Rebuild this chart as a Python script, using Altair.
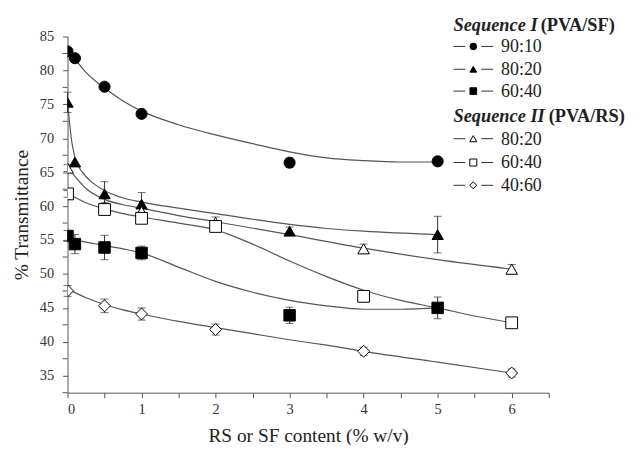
import altair as alt
import pandas as pd

# ---------------- data ----------------
series_names = ["SF 90:10", "SF 80:20", "SF 60:40", "RS 80:20", "RS 60:40", "RS 40:60"]
legend_labels = ["90:10", "80:20", "60:40", "80:20", "60:40", "40:60"]

x_seq1 = [0, 0.1, 0.5, 1, 3, 5]
y_sf_9010 = [82.8, 81.8, 77.6, 73.6, 66.4, 66.6]
e_sf_9010 = [0, 0, 0, 0, 0.7, 0.6]
y_sf_8020 = [75.3, 66.5, 61.8, 60.3, 56.3, 55.8]
e_sf_8020 = [1.5, 0, 1.8, 1.7, 0.6, 2.7]
y_sf_6040 = [55.6, 54.4, 53.9, 53.1, 43.9, 45.0]
e_sf_6040 = [0.8, 1.4, 1.8, 1.0, 1.2, 1.6]

x_seq2 = [0, 0.5, 1, 2, 4, 6]
y_rs_8020 = [65.6, 59.9, 59.2, 57.6, 53.7, 50.7]
e_rs_8020 = [0.5, 0.6, 0.5, 0.8, 0.7, 0.7]
y_rs_6040 = [61.8, 59.5, 58.2, 57.0, 46.7, 42.8]
e_rs_6040 = [0.5, 0.8, 0.6, 0.7, 0.8, 0.5]
y_rs_4060 = [47.5, 45.3, 44.1, 41.8, 38.6, 35.4]
e_rs_4060 = [0.8, 1.0, 0.9, 0.8, 0.6, 0.6]

# fitted curves
cx_sf_9010 = [0, 0.1, 0.25, 0.5, 0.75, 1, 1.5, 2, 2.5, 3, 3.5, 4, 4.5, 5]
cy_sf_9010 = [83.0, 81.7, 79.7, 77.4, 75.5, 74.0, 72.0, 70.5, 69.2, 68.0, 67.1, 66.7, 66.5, 66.5]
cx_sf_8020 = [0, 0.03, 0.06, 0.1, 0.2, 0.3, 0.5, 0.75, 1, 1.5, 2, 3, 3.5, 4, 5]
cy_sf_8020 = [75.5, 72.0, 69.3, 67.2, 65.0, 63.8, 62.3, 61.2, 60.6, 59.7, 58.9, 57.3, 56.7, 56.3, 55.8]
cx_sf_6040 = [0, 0.25, 0.5, 0.75, 1, 1.5, 2, 2.5, 3, 3.5, 4, 4.5, 5]
cy_sf_6040 = [55.2, 54.7, 54.2, 53.7, 53.1, 51.0, 48.9, 47.3, 46.1, 45.3, 44.8, 44.8, 45.0]
cx_rs_8020 = [0, 0.1, 0.25, 0.5, 0.75, 1, 1.5, 2, 3, 4, 5, 6]
cy_rs_8020 = [65.8, 64.4, 62.6, 61.0, 60.2, 59.7, 58.6, 57.7, 55.8, 53.8, 52.1, 50.7]
cx_rs_6040 = [0, 0.25, 0.5, 0.75, 1, 1.5, 2, 2.5, 3, 3.5, 4, 4.5, 5, 5.5, 6]
cy_rs_6040 = [61.9, 60.5, 59.6, 58.9, 58.4, 57.5, 56.5, 54.4, 51.9, 49.6, 47.6, 46.1, 45.0, 43.8, 42.8]
cx_rs_4060 = [0, 0.25, 0.5, 0.75, 1, 1.5, 2, 2.5, 3, 3.5, 4, 5, 6]
cy_rs_4060 = [47.8, 46.5, 45.5, 44.7, 44.1, 43.0, 42.1, 41.2, 40.3, 39.5, 38.6, 37.0, 35.4]

x_ticks = [0, 0.5, 1, 1.5, 2, 2.5, 3, 3.5, 4, 4.5, 5, 5.5, 6, 6.5]
y_major = [35, 40, 45, 50, 55, 60, 65, 70, 75, 80, 85]
y_minor = [32.5, 37.5, 42.5, 47.5, 52.5, 57.5, 62.5, 67.5, 72.5, 77.5, 82.5]

# ---------------- tables ----------------
pts = []
for name, xs, ys, es in [
    (series_names[0], x_seq1, y_sf_9010, e_sf_9010),
    (series_names[1], x_seq1, y_sf_8020, e_sf_8020),
    (series_names[2], x_seq1, y_sf_6040, e_sf_6040),
    (series_names[3], x_seq2, y_rs_8020, e_rs_8020),
    (series_names[4], x_seq2, y_rs_6040, e_rs_6040),
    (series_names[5], x_seq2, y_rs_4060, e_rs_4060),
]:
    for x, y, e in zip(xs, ys, es):
        pts.append({"series": name, "x": x, "y": y, "lo": y - e, "hi": y + e, "err": e})
df_pts = pd.DataFrame(pts)

crv = []
for name, xs, ys in [
    (series_names[0], cx_sf_9010, cy_sf_9010),
    (series_names[1], cx_sf_8020, cy_sf_8020),
    (series_names[2], cx_sf_6040, cy_sf_6040),
    (series_names[3], cx_rs_8020, cy_rs_8020),
    (series_names[4], cx_rs_6040, cy_rs_6040),
    (series_names[5], cx_rs_4060, cy_rs_4060),
]:
    for x, y in zip(xs, ys):
        crv.append({"series": name, "x": x, "y": y})
df_crv = pd.DataFrame(crv)

FONT = "Liberation Serif"
shapes = ["circle", "triangle-up", "square", "triangle-up", "square", "diamond"]
fills = ["black", "black", "black", "white", "white", "white"]
sizes = [125, 145, 110, 140, 95, 160]

xscale = alt.Scale(domain=[0, 6.5], nice=False, zero=False)
yscale = alt.Scale(domain=[32.5, 85], nice=False, zero=False)

xaxis = alt.Axis(
    values=x_ticks, labelExpr="datum.value % 1 == 0 ? format(datum.value, 'd') : ''",
    labelOverlap=False,
    title="RS or SF content (% w/v)", titleFontSize=19.5, titleFont=FONT,
    titleFontWeight="normal", titlePadding=11, titleColor="#222",
    labelFont=FONT, labelFontSize=14.5, labelColor="#333", labelPadding=5,
    tickSize=5, grid=False, domainColor="#555", tickColor="#555",
)
yaxis = alt.Axis(
    values=y_major, format="d",
    labelOverlap=False,
    title="% Transmittance", titleFontSize=19.5, titleFont=FONT,
    titleFontWeight="normal", titlePadding=8, titleColor="#222",
    labelFont=FONT, labelFontSize=14.5, labelColor="#333", labelPadding=9,
    tickSize=5, grid=False, domainColor="#555", tickColor="#555",
)

X = alt.X("x:Q", scale=xscale, axis=xaxis)
Y = alt.Y("y:Q", scale=yscale, axis=yaxis)

curves = alt.Chart(df_crv).mark_line(
    interpolate="monotone", color="#555", strokeWidth=1.2, clip=True
).encode(x=X, y=Y, detail="series:N", order="x:Q")

# minor y ticks, placed through the y scale
minor = alt.Chart(pd.DataFrame({"y": y_minor})).mark_rule(color="#555", strokeWidth=1).encode(
    y=Y, x=alt.value(-5), x2=alt.value(0)
)

err_base = alt.Chart(df_pts).transform_filter("datum.err > 0")
Ylo = alt.Y("lo:Q", scale=yscale, axis=yaxis)
Yhi = alt.Y("hi:Q", scale=yscale, axis=yaxis)
err_rule = err_base.mark_rule(color="#333", strokeWidth=1).encode(x=X, y=Ylo, y2="hi:Q")
err_cap_lo = err_base.mark_tick(color="#333", thickness=1, size=8, orient="horizontal").encode(x=X, y=Ylo)
err_cap_hi = err_base.mark_tick(color="#333", thickness=1, size=8, orient="horizontal").encode(x=X, y=Yhi)

points = alt.Chart(df_pts).mark_point(
    filled=False, stroke="black", strokeWidth=1, opacity=1, clip=True
).encode(
    x=X, y=Y,
    shape=alt.Shape("series:N", scale=alt.Scale(domain=series_names, range=shapes), legend=None),
    fill=alt.Fill("series:N", scale=alt.Scale(domain=series_names, range=fills), legend=None),
    size=alt.Size("series:N", scale=alt.Scale(domain=series_names, range=sizes), legend=None),
)

# ---------------- hand-made legend (pixel positions inside the plot area) ----------------
one = pd.DataFrame({"k": [0]})
leg_layers = []
LX0 = 389
row_ys = [10, 33, 55, 103, 127, 150]
for i, lab in enumerate(legend_labels):
    yy = row_ys[i]
    leg_layers.append(alt.Chart(one).mark_rule(color="#333", strokeWidth=1).encode(
        x=alt.value(LX0), x2=alt.value(LX0 + 12), y=alt.value(yy)))
    leg_layers.append(alt.Chart(one).mark_rule(color="#333", strokeWidth=1).encode(
        x=alt.value(LX0 + 28), x2=alt.value(LX0 + 40), y=alt.value(yy)))
    leg_layers.append(alt.Chart(one).mark_point(
        stroke="black", strokeWidth=1, filled=False, opacity=1,
        fill=fills[i], shape=shapes[i], size=45 if i < 3 else 50
    ).encode(x=alt.value(LX0 + 20), y=alt.value(yy)))
    leg_layers.append(alt.Chart(one).mark_text(
        text=lab, font=FONT, fontSize=18, align="left", baseline="middle", color="#222"
    ).encode(x=alt.value(LX0 + 48), y=alt.value(yy + 1)))

for hy, part1, part2, off in [(-12, "Sequence I", "(PVA/SF)", 88), (80, "Sequence II", "(PVA/RS)", 96)]:
    leg_layers.append(alt.Chart(one).mark_text(
        text=part1, font=FONT, fontSize=18.5, fontWeight="bold", fontStyle="italic",
        align="left", baseline="middle", color="#222"
    ).encode(x=alt.value(LX0), y=alt.value(hy)))
    leg_layers.append(alt.Chart(one).mark_text(
        text=part2, font=FONT, fontSize=18.5, fontWeight="bold",
        align="left", baseline="middle", color="#222"
    ).encode(x=alt.value(LX0 + off), y=alt.value(hy)))

chart = alt.layer(curves, minor, err_rule, err_cap_lo, err_cap_hi, points, *leg_layers).properties(
    width=485, height=359,
    autosize=alt.AutoSizeParams(type="none"),
    padding={"left": 60, "top": 27, "right": 88, "bottom": 51},
    background="white",
).configure_view(stroke=None).configure_axis(
    labelFont=FONT, titleFont=FONT
)

chart.save("out.html", embed_options={"renderer": "svg", "actions": False})
